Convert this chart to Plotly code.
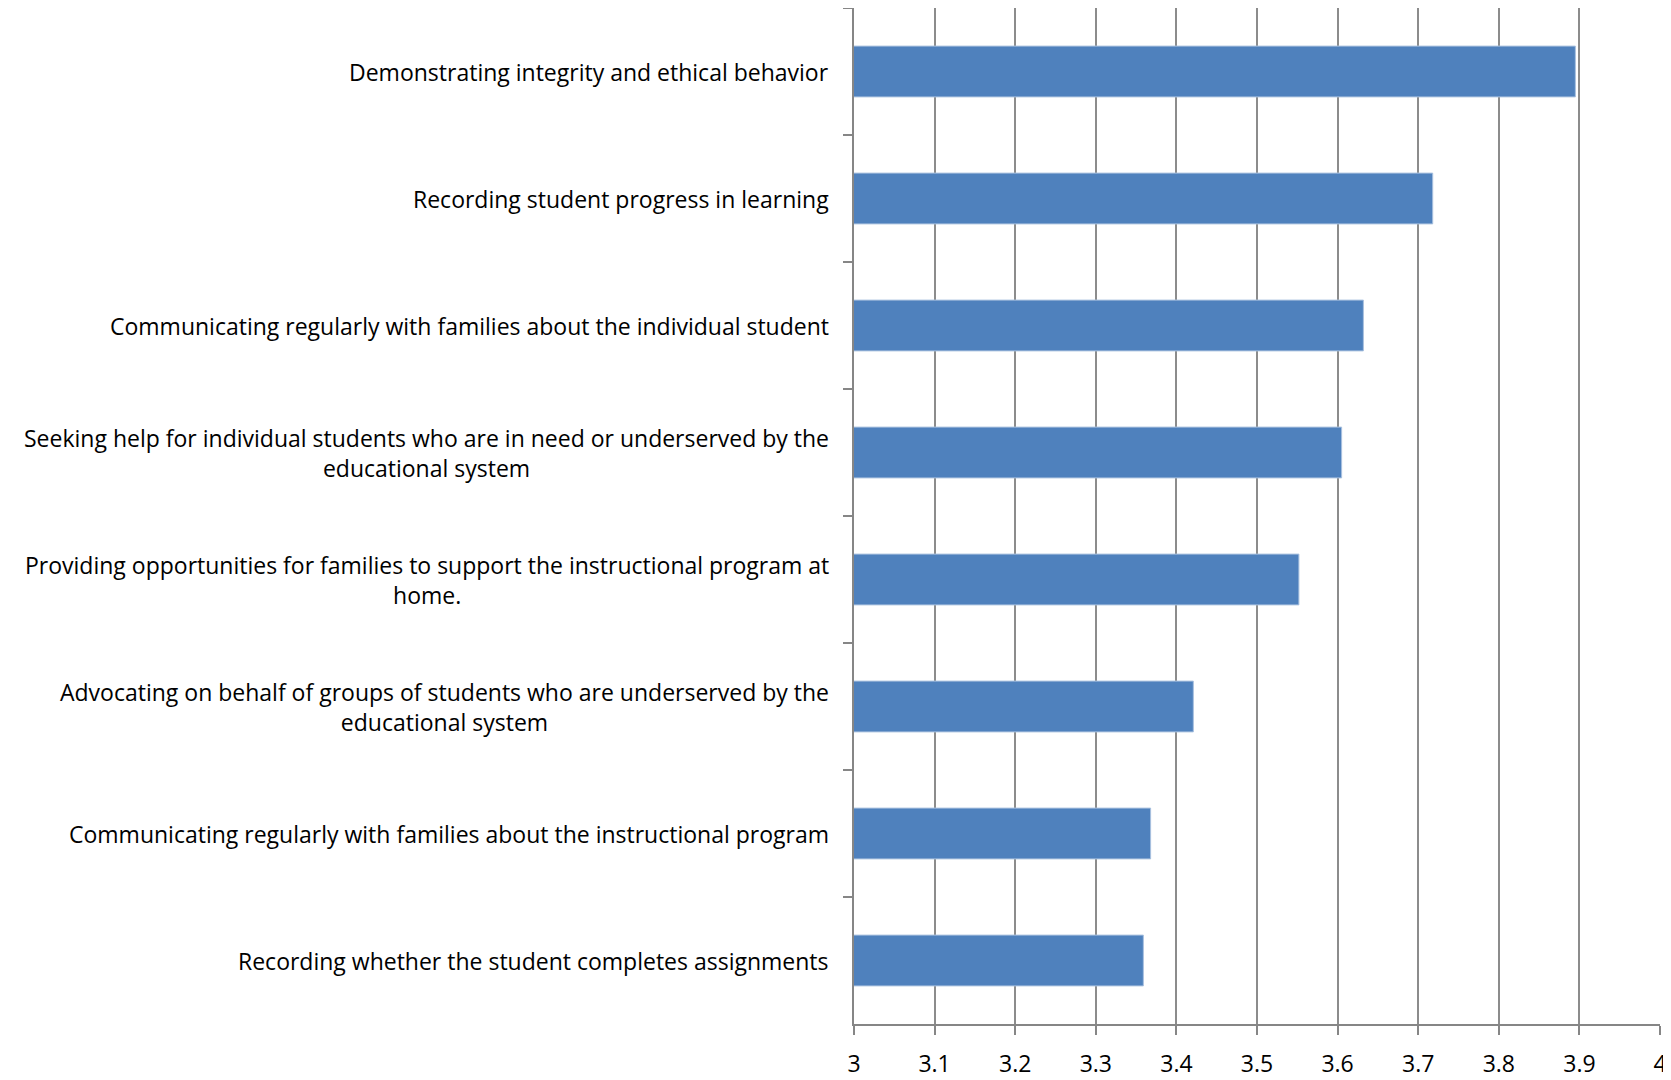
import plotly.graph_objects as go

categories = [
    "Demonstrating integrity and ethical behavior",
    "Recording student progress in learning",
    "Communicating regularly with families about the individual student",
    "Seeking help for individual students who are in need or underserved by the<br>educational system",
    "Providing opportunities for families to support the instructional program at<br>home.",
    "Advocating on behalf of groups of students who are underserved by the<br>educational system",
    "Communicating regularly with families about the instructional program",
    "Recording whether the student completes assignments",
]
values = [3.895, 3.718, 3.632, 3.605, 3.552, 3.421, 3.368, 3.359]
x_ticks = [3, 3.1, 3.2, 3.3, 3.4, 3.5, 3.6, 3.7, 3.8, 3.9, 4]
x_tick_labels = ["3", "3.1", "3.2", "3.3", "3.4", "3.5", "3.6", "3.7", "3.8", "3.9", "4"]

FONT = "Open Sans, sans-serif"

fig = go.Figure()
fig.add_trace(go.Bar(
    x=values,
    y=categories,
    orientation="h",
    base=0,
    width=0.4,
    marker=dict(color="#4F81BD", line=dict(color="#A9C1DF", width=1)),
    showlegend=False,
))

annotations = []
for c in categories:
    annotations.append(dict(
        x=-0.029, xref="paper", y=c, yref="y",
        text=c, showarrow=False, xanchor="right", yanchor="middle",
        align="center", font=dict(family=FONT, size=23, color="#000000"),
    ))

fig.update_layout(
    width=1663, height=1072,
    margin=dict(l=846, r=11, t=0, b=56, pad=0),
    paper_bgcolor="white", plot_bgcolor="white",
    font=dict(family=FONT, size=23, color="#000000"),
    bargap=0.6,
    annotations=annotations,
    xaxis=dict(
        range=[3, 4], tickvals=x_ticks, ticktext=x_tick_labels,
        showgrid=True, gridcolor="#8C8C8C", gridwidth=2,
        showline=True, linecolor="#868686", linewidth=2,
        ticks="outside", ticklen=9, tickwidth=2, tickcolor="#868686",
        ticklabelstandoff=9,
        zeroline=False, tickfont=dict(family=FONT, size=23),
        automargin=False,
    ),
    yaxis=dict(
        categoryorder="array", categoryarray=categories,
        autorange="reversed",
        showticklabels=False, showgrid=False,
        showline=True, linecolor="#868686", linewidth=2,
        ticks="outside", ticklen=9, tickwidth=2, tickcolor="#868686",
        tickson="boundaries", zeroline=False,
    ),
)

fig.write_html("out.html")
